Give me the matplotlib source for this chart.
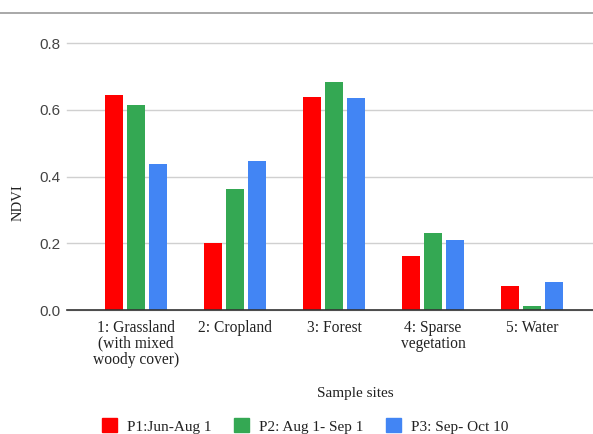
import matplotlib
matplotlib.use("Agg")
import matplotlib.pyplot as plt
import numpy as np
from matplotlib.patches import Rectangle
from matplotlib.lines import Line2D

# NDVI per sample site for three observation periods
sites = ["1: Grassland\n(with mixed\nwoody cover)", "2: Cropland", "3: Forest",
         "4: Sparse\nvegetation", "5: Water"]
periods = ["P1:Jun-Aug 1", "P2: Aug 1- Sep 1", "P3: Sep- Oct 10"]
p1 = [0.646, 0.200, 0.640, 0.162, 0.073]
p2 = [0.616, 0.362, 0.685, 0.231, 0.011]
p3 = [0.439, 0.447, 0.635, 0.211, 0.085]
yticks = [0.0, 0.2, 0.4, 0.6, 0.8]

colors = ["#ff0000", "#34a853", "#4285f4"]
serif = "Liberation Serif"
sans = "Liberation Sans"

fig = plt.figure(figsize=(5.93, 4.34), dpi=100)
ax = fig.add_axes([67 / 593, 1 - 310 / 434, 1 - 67 / 593, (310 - 43.3) / 434])

x = np.arange(len(sites))
width = 0.19
step = 0.222
for i, (vals, col) in enumerate(zip([p1, p2, p3], colors)):
    ax.bar(x + (i - 1) * step, vals, width=width, color=col, zorder=3,
           linewidth=0)

ax.set_xlim(-0.697, 4.616)
ax.set_ylim(0, 0.8)
ax.set_yticks(yticks)
ax.set_yticklabels([f"{v:.1f}" for v in yticks], fontfamily=sans,
                   fontsize=11, color="#444444")
ax.set_xticks(x)
ax.set_xticklabels(sites, fontfamily=serif, fontsize=11.2, color="#222222",
                   linespacing=1.0)
ax.tick_params(axis="both", length=0)
ax.tick_params(axis="y", pad=5)
ax.tick_params(axis="x", pad=7)

ax.grid(axis="y", color="#d0d0d0", linewidth=1.0, zorder=0, clip_on=False)
for g in ax.get_ygridlines():
    g.set_clip_on(False)
for s in ["top", "left", "right"]:
    ax.spines[s].set_visible(False)
ax.spines["bottom"].set_color("#333333")
ax.spines["bottom"].set_linewidth(1.2)
ax.spines["bottom"].set_zorder(4)

fig.text(18 / 593, 1 - 203 / 434, "NDVI", rotation=90, ha="center",
         va="center", fontfamily=serif, fontsize=10.5, color="#222222")
fig.text(355 / 593, 1 - 394 / 434, "Sample sites", ha="center", va="center",
         fontfamily=serif, fontsize=11, color="#222222")

# thin rule across the top of the figure
fig.add_artist(Line2D([0, 1], [1 - 13 / 434, 1 - 13 / 434],
                      transform=fig.transFigure, color="#9a9a9a",
                      linewidth=1.2))

handles = [Rectangle((0, 0), 1, 1, color=c) for c in colors]
fig.legend(handles, periods, loc="center", ncol=3, frameon=False,
           bbox_to_anchor=(305 / 593, 1 - 426 / 434),
           prop={"family": serif, "size": 11}, handlelength=1.0,
           handleheight=1.0, handletextpad=0.65, columnspacing=1.45,
           labelcolor="#222222", borderpad=0)

fig.savefig("out.png", dpi=100)
